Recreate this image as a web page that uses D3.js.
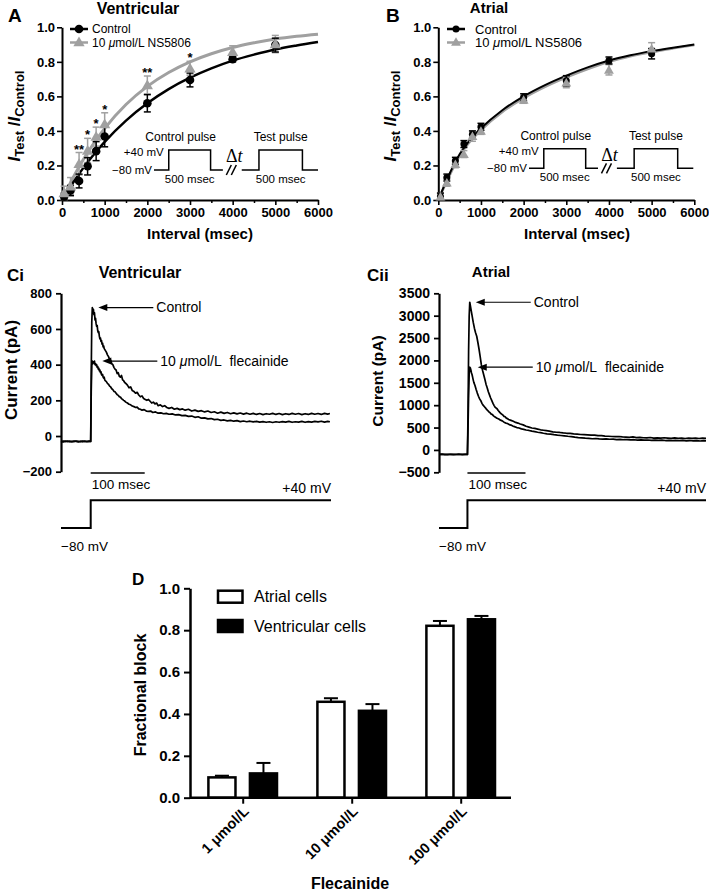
<!DOCTYPE html>
<html><head><meta charset="utf-8">
<script src="https://cdn.jsdelivr.net/npm/d3@7"></script>
<style>body{margin:0;background:#fff}svg{display:block}</style>
</head><body><svg id="c" width="709" height="893"></svg>
<script>
// ---------------- DATA ----------------
const intervalsMs = [50, 200, 400, 600, 800, 1000, 2000, 3000, 4000, 5000];
const ventControl = [0.02, 0.055, 0.11, 0.195, 0.283, 0.368, 0.56, 0.695, 0.815, 0.897];
const ventControlErr = [0.02, 0.03, 0.04, 0.05, 0.055, 0.06, 0.05, 0.04, 0.015, 0.04];
const ventNS = [0.04, 0.08, 0.21, 0.287, 0.367, 0.44, 0.666, 0.763, 0.859, 0.903];
const ventNSErr = [0.04, 0.05, 0.065, 0.07, 0.055, 0.065, 0.052, 0.04, 0.034, 0.05];
const ventStars = ['', '', '**', '*', '*', '*', '**', '*', '', ''];
const atrControl = [0.02, 0.13, 0.227, 0.324, 0.38, 0.424, 0.595, 0.69, 0.808, 0.847];
const atrControlErr = [0.02, 0.02, 0.02, 0.02, 0.02, 0.02, 0.02, 0.03, 0.02, 0.03];
const atrNS = [0.02, 0.10, 0.207, 0.266, 0.37, 0.40, 0.58, 0.68, 0.754, 0.876];
const atrNSErr = [0.02, 0.02, 0.02, 0.02, 0.03, 0.02, 0.02, 0.03, 0.03, 0.035];

const fitTimes = [0, 250, 500, 750, 1000, 1500, 2000, 2500, 3000, 3500, 4000, 4500, 5000, 5500, 6000];
const ventControlFit = [0, 0.097, 0.186, 0.265, 0.337, 0.460, 0.560, 0.642, 0.708, 0.762, 0.807, 0.842, 0.872, 0.895, 0.915];
const ventNSFit = [0, 0.125, 0.235, 0.33, 0.415, 0.553, 0.658, 0.738, 0.800, 0.847, 0.883, 0.910, 0.932, 0.948, 0.960];
const atrControlFit = [0, 0.145, 0.265, 0.35, 0.415, 0.52, 0.60, 0.665, 0.72, 0.768, 0.808, 0.838, 0.862, 0.882, 0.90];
const atrNSFit = [0, 0.135, 0.255, 0.34, 0.405, 0.51, 0.59, 0.655, 0.71, 0.758, 0.80, 0.832, 0.857, 0.878, 0.897];

const intervalTicks = [0, 1000, 2000, 3000, 4000, 5000, 6000];
const ratioTicks = [0, 0.2, 0.4, 0.6, 0.8, 1.0];

// Current traces [time ms, current pA]
const ciControlTrace = [[0,-30],[4,-33],[8,-28],[12,-31],[16,-29],[20,-32],[24,-28],[28,-30],[32,-33],[36,-29],[40,-31],[44,-28],[48,-32],[52,-30],[55,-30],[56,350],[57,640],[58,720],[59,700],[60,710],[61,680],[62,690],[63,650],[64,660],[65,630],[66,615],[67,620],[68,590],[69,580],[70,585],[71,560],[72,545],[73,550],[74,530],[75,535],[76,515],[77,520],[78,500],[79,505],[80,490],[82,480],[84,470],[86,455],[88,445],[90,430],[92,425],[94,405],[96,400],[98,385],[100,375],[102,370],[104,350],[106,355],[108,335],[110,330],[112,340],[114,315],[116,310],[118,300],[120,295],[123,285],[126,270],[129,275],[132,255],[135,250],[138,240],[141,245],[144,230],[147,220],[150,225],[153,210],[156,205],[159,200],[162,205],[165,195],[168,185],[171,190],[174,180],[177,185],[180,170],[184,175],[188,165],[192,170],[196,160],[200,155],[205,160],[210,150],[215,155],[220,148],[225,152],[230,145],[236,150],[242,140],[248,145],[254,138],[260,142],[266,135],[272,140],[278,132],[284,136],[290,128],[296,134],[302,127],[308,132],[314,125],[320,130],[326,124],[332,129],[338,123],[344,128],[350,122],[356,127],[362,121],[368,126],[374,120],[380,125],[386,122],[392,127],[398,121],[404,126],[410,120],[416,125],[422,121],[428,127],[434,122],[440,126],[446,120],[452,125],[458,121],[464,127],[470,122],[476,126],[482,121],[488,127],[494,123],[498,126]];
const ciFlecTrace = [[0,-32],[4,-29],[8,-31],[12,-28],[16,-32],[20,-30],[24,-31],[28,-28],[32,-30],[36,-32],[40,-29],[44,-31],[48,-30],[52,-29],[55,-30],[56,250],[57,400],[58,420],[59,405],[60,415],[61,410],[62,420],[63,400],[64,405],[65,395],[66,400],[67,385],[68,390],[69,375],[70,380],[71,365],[72,370],[73,355],[74,360],[75,345],[76,340],[77,345],[78,330],[79,325],[80,330],[81,315],[82,310],[84,305],[86,295],[88,290],[90,280],[92,275],[94,265],[96,260],[98,250],[100,248],[102,240],[104,232],[106,228],[108,220],[110,218],[112,210],[114,205],[116,200],[118,196],[120,190],[123,185],[126,178],[129,175],[132,168],[135,165],[138,160],[141,162],[144,152],[147,150],[150,145],[154,148],[158,140],[162,138],[166,140],[170,132],[175,135],[180,128],[185,130],[190,125],[195,127],[200,122],[206,124],[212,118],[218,120],[224,114],[230,116],[236,110],[242,112],[248,105],[254,108],[260,100],[266,102],[272,96],[278,98],[284,92],[290,94],[296,88],[302,90],[308,85],[314,88],[320,83],[326,86],[332,81],[338,84],[344,80],[350,83],[356,79],[362,82],[368,78],[374,81],[380,77],[386,80],[392,76],[398,80],[404,77],[410,81],[416,78],[422,82],[428,77],[434,80],[440,78],[446,82],[452,77],[458,81],[464,78],[470,82],[476,79],[482,83],[488,78],[494,82],[498,80]];
const ciiControlTrace = [[0,-100],[5,-95],[10,-105],[15,-100],[20,-98],[25,-103],[30,-100],[35,-96],[40,-104],[45,-100],[49,-100],[50,800],[51,2200],[52,3000],[53,3300],[55,3150],[57,3000],[59,2850],[61,2720],[63,2620],[65,2540],[67,2400],[69,2250],[71,2080],[73,1900],[75,1780],[77,1680],[79,1580],[81,1470],[83,1390],[85,1300],[87,1230],[89,1160],[91,1100],[93,1040],[95,990],[97,950],[100,920],[102,880],[104,850],[106,820],[108,800],[110,780],[112,750],[114,740],[116,710],[118,700],[120,680],[124,660],[128,640],[132,615],[136,600],[140,580],[145,560],[150,530],[155,510],[160,490],[165,480],[170,465],[175,450],[180,440],[185,430],[190,420],[196,405],[202,395],[208,390],[214,380],[220,372],[226,368],[232,360],[238,355],[244,345],[250,340],[256,335],[262,330],[268,332],[274,320],[280,318],[286,310],[292,305],[298,300],[304,296],[310,300],[316,290],[322,288],[328,282],[334,290],[340,275],[346,280],[352,272],[358,270],[364,278],[370,265],[376,270],[382,262],[388,272],[394,265],[400,258],[406,268],[412,260],[418,265],[424,255],[430,262],[436,258],[442,265],[448,255],[454,262],[460,258]];
const ciiFlecTrace = [[0,-102],[5,-98],[10,-100],[15,-104],[20,-97],[25,-100],[30,-102],[35,-99],[40,-101],[45,-98],[49,-100],[50,500],[51,1200],[52,1700],[53,1850],[54,1830],[55,1780],[56,1720],[57,1680],[58,1620],[59,1560],[60,1510],[62,1440],[64,1350],[66,1270],[68,1200],[70,1140],[72,1100],[74,1040],[76,1000],[78,970],[80,940],[82,905],[84,880],[86,850],[88,830],[90,800],[92,790],[94,760],[96,740],[98,725],[100,706],[103,690],[106,665],[109,650],[112,620],[115,600],[118,590],[121,565],[124,555],[127,535],[130,520],[134,500],[138,490],[142,470],[146,460],[150,445],[155,435],[160,420],[165,410],[170,395],[175,385],[180,372],[186,360],[192,352],[198,340],[204,330],[210,322],[216,315],[222,305],[228,298],[234,285],[240,275],[246,268],[252,262],[258,258],[264,250],[270,255],[276,246],[282,240],[288,248],[294,238],[300,240],[306,232],[312,236],[318,228],[324,232],[330,225],[336,228],[342,220],[348,225],[354,218],[360,222],[366,215],[372,220],[378,212],[384,218],[390,210],[396,215],[402,208],[408,214],[414,205],[420,212],[426,204],[432,210],[438,202],[444,208],[450,200],[456,206],[460,202]];
const ciTicks = [-200, 0, 200, 400, 600, 800];
const ciiTicks = [-500, 0, 500, 1000, 1500, 2000, 2500, 3000, 3500];
const ciStepMs = 55, ciiStepMs = 49;
const holdingMv = -80, testMv = 40;

const concentrations = ['1 μmol/L', '10 μmol/L', '100 μmol/L'];
const cellTypes = ['Atrial cells', 'Ventricular cells'];
const atrialBlock = [0.097, 0.458, 0.821];
const atrialBlockErr = [0.008, 0.017, 0.023];
const ventBlock = [0.116, 0.415, 0.852];
const ventBlockErr = [0.05, 0.032, 0.016];

// ---------------- HELPERS ----------------
const F = '"Liberation Sans", Arial, Helvetica, sans-serif';
const GRAY = '#a0a0a0';
const svg = d3.select('#c');

function T(g, x, y, s, o = {}) {
  const t = g.append('text').attr('x', x).attr('y', y)
    .attr('font-family', o.family || F)
    .attr('font-size', o.size || 12)
    .attr('font-weight', o.weight || 'normal')
    .attr('text-anchor', o.anchor || 'start')
    .attr('dy', o.dy == null ? '0.35em' : o.dy)
    .attr('fill', o.fill || '#000');
  if (o.style) t.attr('font-style', o.style);
  t.text(s);
  return t;
}
function styleAxis(a, fs, sw) {
  a.attr('font-family', F).attr('font-size', fs).attr('font-weight', 'bold');
  a.select('.domain').attr('stroke', '#000').attr('stroke-width', sw);
  a.selectAll('.tick line').attr('stroke', '#000').attr('stroke-width', sw * 0.8);
  a.selectAll('.tick text').attr('fill', '#000');
}

// ---------------- PANELS A & B ----------------
function recoveryPanel(c) {
  const g = svg.append('g');
  const x = d3.scaleLinear().domain([0, 6000]).range([c.x0, c.x0 + 256]);
  const y = d3.scaleLinear().domain([0, 1]).range([200, 27.3]);

  const xa = g.append('g').attr('transform', 'translate(0,200)')
    .call(d3.axisBottom(x).tickValues(intervalTicks).tickFormat(d3.format('d')).tickSize(5).tickSizeOuter(0).tickPadding(3));
  styleAxis(xa, 13, 2);
  const xm = g.append('g').attr('transform', 'translate(0,200)')
    .call(d3.axisBottom(x).tickValues(intervalTicks.slice(0, -1).map((d, i) => (d + intervalTicks[i + 1]) / 2)).tickFormat('').tickSize(3).tickSizeOuter(0));
  xm.select('.domain').remove();
  xm.selectAll('.tick line').attr('stroke', '#000').attr('stroke-width', 1.5);
  const ya = g.append('g').attr('transform', `translate(${c.x0},0)`)
    .call(d3.axisLeft(y).tickValues(ratioTicks).tickFormat(d3.format('.1f')).tickSize(5).tickSizeOuter(0).tickPadding(2));
  styleAxis(ya, 13, 2);

  // curves
  const line = d3.line().x(d => x(d[0])).y(d => y(d[1])).curve(d3.curveMonotoneX);
  g.append('path').datum(fitTimes.map((t, i) => [t, c.nsFit[i]])).attr('d', line)
    .attr('fill', 'none').attr('stroke', GRAY).attr('stroke-width', c.curveW + 0.5);
  g.append('path').datum(fitTimes.map((t, i) => [t, c.ctlFit[i]])).attr('d', line)
    .attr('fill', 'none').attr('stroke', '#000').attr('stroke-width', c.curveW);

  function errs(vals, err, col) {
    intervalsMs.forEach((t, i) => {
      const cx = x(t), y1 = y(vals[i] + err[i]), y2 = y(Math.max(0, vals[i] - err[i]));
      g.append('line').attr('x1', cx).attr('x2', cx).attr('y1', y1).attr('y2', y2).attr('stroke', col).attr('stroke-width', 1.5);
      [y1, y2].forEach(yy => g.append('line').attr('x1', cx - 3.5).attr('x2', cx + 3.5).attr('y1', yy).attr('y2', yy).attr('stroke', col).attr('stroke-width', 1.5));
    });
  }
  errs(c.ns, c.nsErr, GRAY);
  errs(c.ctl, c.ctlErr, '#000');
  const tri = d3.symbol(d3.symbolTriangle).size(c.triSize)();
  intervalsMs.forEach((t, i) => {
    g.append('circle').attr('cx', x(t)).attr('cy', y(c.ctl[i])).attr('r', c.r).attr('fill', '#000');
  });
  intervalsMs.forEach((t, i) => {
    g.append('path').attr('d', tri).attr('transform', `translate(${x(t)},${y(c.ns[i]) + 1})`).attr('fill', GRAY);
  });
  if (c.stars) {
    intervalsMs.forEach((t, i) => {
      if (c.stars[i]) T(g, x(t), y(c.ns[i] + c.nsErr[i]) + 1, c.stars[i], {size: 13, weight: 'bold', anchor: 'middle', dy: '0em'});
    });
  }

  // legend
  const lx = c.legX, lw = 18;
  g.append('line').attr('x1', lx).attr('x2', lx + lw).attr('y1', 29).attr('y2', 29).attr('stroke', '#000').attr('stroke-width', 2.5);
  g.append('circle').attr('cx', lx + lw / 2).attr('cy', 29).attr('r', c.r).attr('fill', '#000');
  g.append('line').attr('x1', lx).attr('x2', lx + lw).attr('y1', 42.5).attr('y2', 42.5).attr('stroke', GRAY).attr('stroke-width', 2.5);
  g.append('path').attr('d', tri).attr('transform', `translate(${lx + lw / 2},43)`).attr('fill', GRAY);
  T(g, c.legTx, 29, 'Control', {size: c.legFs});
  const lt = T(g, c.legTx, 42.5, '', {size: c.legFs});
  lt.append('tspan').text('10 ');
  lt.append('tspan').attr('font-style', 'italic').text('μ');
  lt.append('tspan').text('mol/L NS5806');

  // titles
  T(g, c.letterX, 15, c.letter, {size: 19, weight: 'bold'});
  T(g, c.titleX, 8, c.title, {size: c.titleFs, weight: 'bold', anchor: 'middle'});
  T(g, c.xTitleX, 234, 'Interval (msec)', {size: 15, weight: 'bold', anchor: 'middle'});
  const yt = g.append('text').attr('transform', `translate(${c.x0 - 42},116) rotate(-90)`)
    .attr('font-family', F).attr('font-weight', 'bold').attr('font-size', 17).attr('text-anchor', 'middle');
  yt.append('tspan').attr('font-style', 'italic').text('I');
  yt.append('tspan').attr('font-size', 13).attr('dy', 4).text('Test');
  yt.append('tspan').attr('dy', -4).text(' /');
  yt.append('tspan').attr('font-style', 'italic').text('I');
  yt.append('tspan').attr('font-size', 13).attr('dy', 4).text('Control');

  // protocol inset (schematic)
  const sx = d3.scaleLinear().domain([0, 1]).range(c.insetX);
  const sy = d3.scaleLinear().domain([0, 1]).range(c.insetY);
  const p1 = [[0, 0], [0.09, 0], [0.09, 1], [0.345, 1], [0.345, 0], [0.42, 0]];
  const p2 = [[0.535, 0], [0.64, 0], [0.64, 1], [0.905, 1], [0.905, 0], [1, 0]];
  const pl = d3.line().x(d => sx(d[0])).y(d => sy(d[1]));
  [p1, p2].forEach(p => g.append('path').attr('d', pl(p)).attr('fill', 'none').attr('stroke', '#000').attr('stroke-width', 1.5));
  const gx = sx(0.4775), by = sy(0);
  [-3, 2].forEach(o => g.append('line').attr('x1', gx + o - 3).attr('x2', gx + o + 2).attr('y1', by + 5).attr('y2', by - 5).attr('stroke', '#000').attr('stroke-width', 1.5));
  const dt = g.append('text').attr('x', gx + 2).attr('y', sy(1) + 6).attr('text-anchor', 'middle')
    .attr('font-family', '"Liberation Serif", "Times New Roman", serif').attr('font-size', 18).attr('dy', '0.35em');
  dt.append('tspan').text('Δ');
  dt.append('tspan').attr('font-style', 'italic').text('t');
  const m1 = (sx(0.09) + sx(0.345)) / 2, m2 = (sx(0.64) + sx(0.905)) / 2;
  T(g, m1 - 9, sy(1) - 13, 'Control pulse', {size: 12, anchor: 'middle'});
  T(g, m2, sy(1) - 13, 'Test pulse', {size: 12, anchor: 'middle'});
  T(g, m1, sy(0) + 9, '500 msec', {size: 11.5, anchor: 'middle'});
  T(g, m2, sy(0) + 9, '500 msec', {size: 11.5, anchor: 'middle'});
  T(g, sx(0.09) - 5, sy(1) + 2, '+40 mV', {size: 11.5, anchor: 'end'});
  T(g, sx(0) - 2, sy(0), '\u221280 mV', {size: 11.5, anchor: 'end'});
}

recoveryPanel({
  x0: 62, ctl: ventControl, ctlErr: ventControlErr, ns: ventNS, nsErr: ventNSErr,
  ctlFit: ventControlFit, nsFit: ventNSFit, stars: ventStars, curveW: 2.5, r: 4.3, triSize: 55,
  legX: 70, legTx: 92, legFs: 12, letter: 'A', letterX: 8, title: 'Ventricular', titleX: 138, titleFs: 16,
  xTitleX: 200, insetX: [154, 318], insetY: [170, 150]
});
recoveryPanel({
  x0: 438.3, ctl: atrControl, ctlErr: atrControlErr, ns: atrNS, nsErr: atrNSErr,
  ctlFit: atrControlFit, nsFit: atrNSFit, stars: null, curveW: 2, r: 3.5, triSize: 42,
  legX: 447, legTx: 475, legFs: 13, letter: 'B', letterX: 386, title: 'Atrial', titleX: 489, titleFs: 15,
  xTitleX: 577, insetX: [529, 693.3], insetY: [168.3, 148.7]
});

// ---------------- PANELS Ci & Cii ----------------
function tracePanel(c) {
  const g = svg.append('g');
  const x = d3.scaleLinear().domain(c.tDom).range(c.xr);
  const y = d3.scaleLinear().domain([c.ticks[0], c.ticks[c.ticks.length - 1]]).range([c.yBottom, 293.3]);
  const ya = g.append('g').attr('transform', `translate(${c.xr[0]},0)`)
    .call(d3.axisLeft(y).tickValues(c.ticks).tickSize(5).tickSizeOuter(0).tickPadding(4).tickFormat(d3.format('d')));
  styleAxis(ya, c.tickFs, 2.2);
  ya.selectAll('.tick text').text(d => d < 0 ? '\u2212' + Math.abs(d) : d);

  const line = d3.line().x(d => x(d[0])).y(d => y(d[1]));
  [c.ctl, c.flec].forEach(tr => g.append('path').datum(tr).attr('d', line)
    .attr('fill', 'none').attr('stroke', '#000').attr('stroke-width', 1.7).attr('stroke-linejoin', 'round'));

  // arrows to peaks
  function arrow(tr, off) {
    const pk = tr.reduce((a, b) => b[1] > a[1] ? b : a);
    const tipX = x(pk[0]) + off, ty = y(pk[1]);
    g.append('line').attr('x1', tipX + 6).attr('x2', tipX + 55).attr('y1', ty).attr('y2', ty).attr('stroke', '#000').attr('stroke-width', 1.2);
    g.append('path').attr('d', `M${tipX},${ty}L${tipX + 9},${ty - 3.5}L${tipX + 9},${ty + 3.5}Z`).attr('fill', '#000');
    return {x: tipX + 58, y: ty};
  }
  const a1 = arrow(c.ctl, c.offC);
  T(g, a1.x, a1.y, 'Control', {size: 14});
  const a2 = arrow(c.flec, c.offF);
  const ft = T(g, a2.x, a2.y, '', {size: 14});
  ft.append('tspan').text('10 ');
  ft.append('tspan').attr('font-style', 'italic').text('μ');
  ft.append('tspan').text('mol/L\u00a0 flecainide');

  // scale bar
  g.append('line').attr('x1', x(c.step)).attr('x2', x(c.step + 100)).attr('y1', 473).attr('y2', 473).attr('stroke', '#000').attr('stroke-width', 1.5);
  T(g, x(c.step) + 1, 484, '100 msec', {size: 13.5});

  // voltage protocol
  const v = d3.scaleLinear().domain([holdingMv, testMv]).range([528, 500.3]);
  const vp = [[c.tDom[0], holdingMv], [c.step, holdingMv], [c.step, testMv], [c.tDom[1], testMv]];
  g.append('path').attr('d', d3.line().x(d => x(d[0])).y(d => v(d[1]))(vp)).attr('fill', 'none').attr('stroke', '#000').attr('stroke-width', 2);
  T(g, x(c.tDom[1]), 488, '+40 mV', {size: 14, anchor: 'end'});
  T(g, c.xr[0], 546, '\u221280 mV', {size: 13.5});

  T(g, c.letterX, 275, c.letter, {size: 17, weight: 'bold'});
  T(g, c.titleX, 272, c.title, {size: c.titleFs, weight: 'bold', anchor: 'middle'});
  T(g, 0, 0, 'Current (pA)', {size: c.yFs, weight: 'bold', anchor: 'middle'})
    .attr('transform', `translate(${c.yTitleX},${c.yTitleY}) rotate(-90)`);
}
tracePanel({
  tDom: [0, 500], xr: [61, 331], ticks: ciTicks, yBottom: 471.7, tickFs: 13,
  ctl: ciControlTrace, flec: ciFlecTrace, step: ciStepMs, offC: 6, offF: 10,
  letter: 'Ci', letterX: 7, title: 'Ventricular', titleX: 140, titleFs: 16,
  yFs: 17, yTitleX: 11, yTitleY: 370
});
tracePanel({
  tDom: [0, 460], xr: [439, 706], ticks: ciiTicks, yBottom: 472.3, tickFs: 14,
  ctl: ciiControlTrace, flec: ciiFlecTrace, step: ciiStepMs, offC: 6, offF: 8,
  letter: 'Cii', letterX: 367, title: 'Atrial', titleX: 491, titleFs: 15,
  yFs: 15.5, yTitleX: 378, yTitleY: 381
});

// ---------------- PANEL D ----------------
(function () {
  const g = svg.append('g');
  const y = d3.scaleLinear().domain([0, 1]).range([797.7, 588.3]);
  const x = d3.scalePoint().domain(concentrations).range([242.7, 460.7]);
  const xs = d3.scaleBand().domain(cellTypes).range([-35.5, 35.5]).paddingInner(0.29);
  const bw = xs.bandwidth();
  const series = [
    {name: cellTypes[0], vals: atrialBlock, err: atrialBlockErr, fill: '#fff'},
    {name: cellTypes[1], vals: ventBlock, err: ventBlockErr, fill: '#000'}
  ];
  series.forEach(s => {
    concentrations.forEach((cn, i) => {
      const bx = x(cn) + xs(s.name);
      const top = y(s.vals[i]), et = y(s.vals[i] + s.err[i]);
      const cx = bx + bw / 2;
      g.append('line').attr('x1', cx).attr('x2', cx).attr('y1', top).attr('y2', et).attr('stroke', '#000').attr('stroke-width', 2);
      g.append('line').attr('x1', cx - 7).attr('x2', cx + 7).attr('y1', et).attr('y2', et).attr('stroke', '#000').attr('stroke-width', 2);
      g.append('rect').attr('x', bx + 1.2).attr('y', top).attr('width', bw - 2.4).attr('height', y(0) - top)
        .attr('fill', s.fill).attr('stroke', '#000').attr('stroke-width', 2.5);
    });
  });
  const ya = g.append('g').attr('transform', 'translate(190,0)')
    .call(d3.axisLeft(y).tickValues(ratioTicks).tickFormat(d3.format('.1f')).tickSize(6).tickSizeOuter(0).tickPadding(4));
  styleAxis(ya, 15, 2.5);
  const xa = g.append('g').attr('transform', 'translate(0,797.7)')
    .call(d3.axisBottom(x).tickSize(6).tickSizeOuter(0).tickPadding(4));
  styleAxis(xa, 14.5, 2.5);
  xa.select('.domain').attr('d', `M190,0H511`);
  xa.selectAll('.tick text').attr('text-anchor', 'end').attr('dy', '0.35em')
    .attr('transform', 'translate(3,11) rotate(-45)').attr('y', 0).attr('x', 0);

  // legend
  series.forEach((s, i) => {
    const ly = 596.7 + i * 29.3;
    g.append('rect').attr('x', 218).attr('y', ly - 6).attr('width', 24.5).attr('height', 12)
      .attr('fill', s.fill).attr('stroke', '#000').attr('stroke-width', 2.5);
    T(g, 254, ly, s.name, {size: 16});
  });
  T(g, 132, 579, 'D', {size: 17, weight: 'bold'});
  T(g, 0, 0, 'Fractional block', {size: 16, weight: 'bold', anchor: 'middle'}).attr('transform', 'translate(140,695) rotate(-90)');
  T(g, 350, 883, 'Flecainide', {size: 16, weight: 'bold', anchor: 'middle'});
})();
</script></body></html>
